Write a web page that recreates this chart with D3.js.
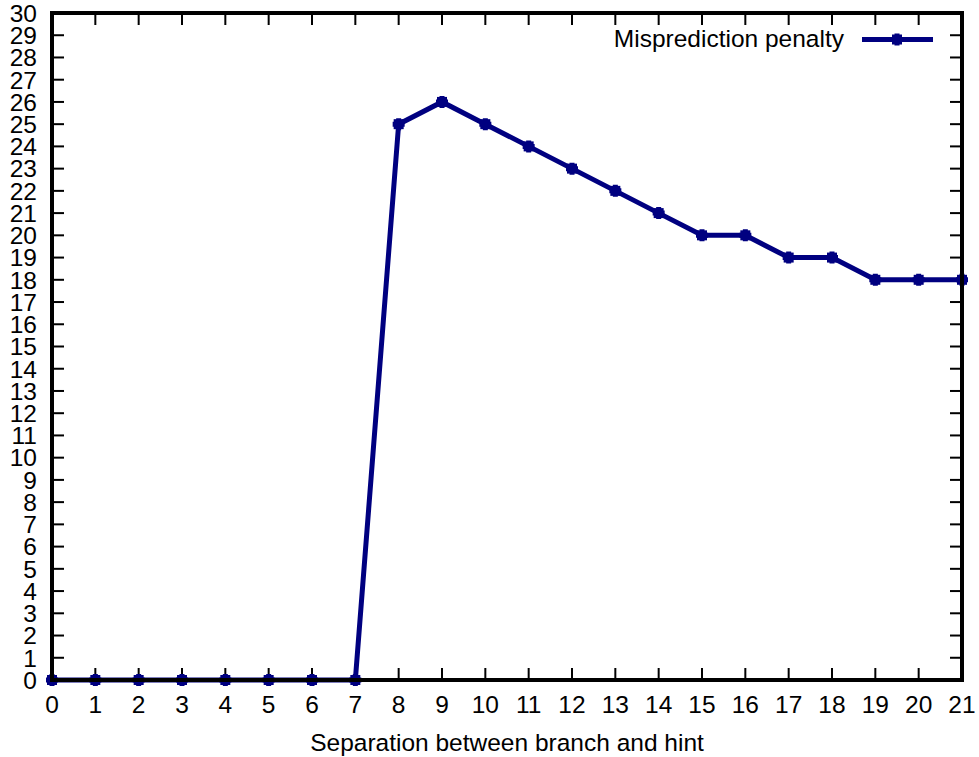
<!DOCTYPE html>
<html><head><meta charset="utf-8">
<script src="https://cdn.jsdelivr.net/npm/d3@7"></script>
<style>body{margin:0;background:#fff;} text{font-family:"Liberation Sans",Arial,sans-serif;}</style>
</head><body>
<svg id="c" width="979" height="757"></svg>
<script>
const separation = [0,1,2,3,4,5,6,7,8,9,10,11,12,13,14,15,16,17,18,19,20,21];
const penalty = [0,0,0,0,0,0,0,0,25,26,25,24,23,22,21,20,20,19,19,18,18,18];
const xTicks = d3.range(0,22);
const yTicks = d3.range(0,31);
const seriesName = "Misprediction penalty";
const xLabel = "Separation between branch and hint";

const L=52, R=962, T=13, B=680;
const FS = 24.5;
const svg = d3.select("#c");
const x = d3.scaleLinear().domain([0,21]).range([L,R]);
const y = d3.scaleLinear().domain([0,30]).range([B,T]);
const col = "#000080";

// ticks (mirrored)
const tl = 12;
const g = svg.append("g").attr("stroke","#000").attr("stroke-width",2);
xTicks.forEach(t=>{
  g.append("line").attr("x1",x(t)).attr("x2",x(t)).attr("y1",B).attr("y2",B-tl);
  g.append("line").attr("x1",x(t)).attr("x2",x(t)).attr("y1",T).attr("y2",T+tl);
});
yTicks.forEach(t=>{
  g.append("line").attr("y1",y(t)).attr("y2",y(t)).attr("x1",L).attr("x2",L+tl);
  g.append("line").attr("y1",y(t)).attr("y2",y(t)).attr("x1",R).attr("x2",R-tl);
});
// labels
svg.append("g").selectAll("text").data(xTicks).join("text")
  .attr("x",d=>x(d)).attr("y",713).attr("text-anchor","middle")
  .attr("font-size",FS).text(d=>d);
svg.append("g").selectAll("text").data(yTicks).join("text")
  .attr("x",37).attr("y",d=>y(d)).attr("dy","0.36em").attr("text-anchor","end")
  .attr("font-size",FS).text(d=>d);
svg.append("text").attr("x",507).attr("y",751).attr("text-anchor","middle")
  .attr("font-size",FS).text(xLabel);

// line
const data = separation.map((s,i)=>[s,penalty[i]]);
svg.append("path").datum(data)
  .attr("fill","none").attr("stroke",col).attr("stroke-width",5)
  .attr("stroke-linejoin","miter")
  .attr("d",d3.line().x(d=>x(d[0])).y(d=>y(d[1])));
function marker(cx,cy){
  svg.append("path").attr("d",`M${cx-6},${cy}H${cx+6}M${cx},${cy-6}V${cy+6}`)
    .attr("stroke",col).attr("stroke-width",5).attr("fill","none");
  svg.append("rect").attr("x",cx-5).attr("y",cy-5).attr("width",10).attr("height",10).attr("fill",col);
}
data.forEach(d=>marker(x(d[0]),y(d[1])));

// border
svg.append("rect").attr("x",L).attr("y",T).attr("width",R-L).attr("height",B-T)
  .attr("fill","none").attr("stroke","#000").attr("stroke-width",4);

// legend
svg.append("text").attr("x",844).attr("y",47).attr("text-anchor","end")
  .attr("font-size",FS).text(seriesName);
svg.append("line").attr("x1",862).attr("x2",933).attr("y1",39.5).attr("y2",39.5)
  .attr("stroke",col).attr("stroke-width",5);
marker(897,39.5);
</script>
</body></html>
